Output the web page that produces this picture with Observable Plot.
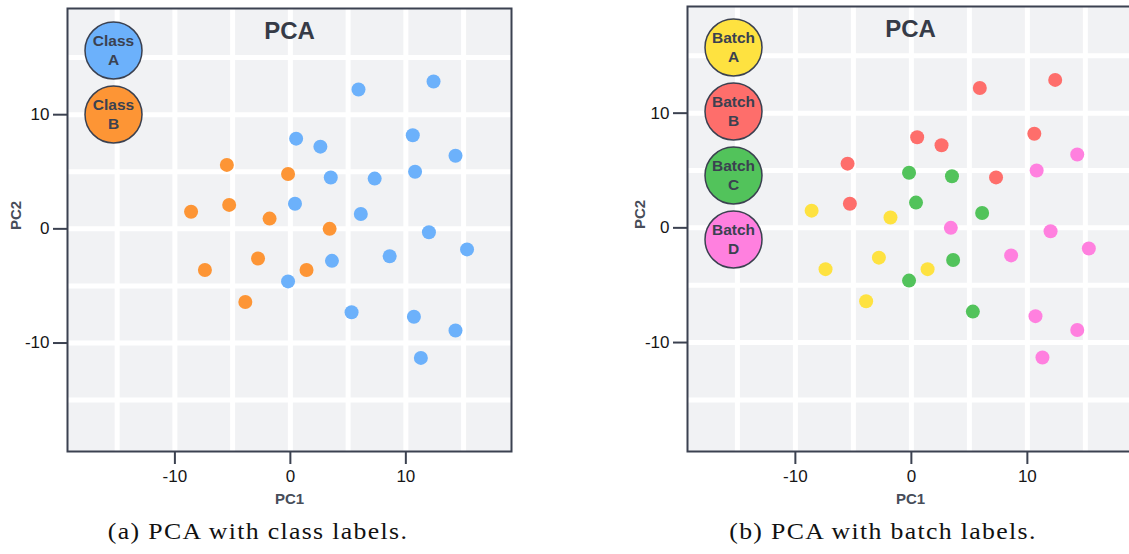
<!DOCTYPE html>
<html>
<head>
<meta charset="utf-8">
<script src="https://cdn.jsdelivr.net/npm/d3@7"></script>
<script src="https://cdn.jsdelivr.net/npm/@observablehq/plot@0.6"></script>
<style>
  html, body { margin: 0; padding: 0; background: #ffffff; }
  body { position: relative; width: 1129px; height: 554px; overflow: hidden; }
  .panel { position: absolute; top: 0; width: 600px; }
  .panel svg { max-width: none !important; }
  .caption {
    position: absolute; top: 520px; white-space: nowrap;
    font-family: "Liberation Serif", "Times New Roman", serif;
    font-size: 23px; line-height: 1; letter-spacing: 1.2px; color: #111;
    transform: translateX(-50%) scaleX(1.12); transform-origin: center;
  }
</style>
</head>
<body>
<div id="left" class="panel" style="left:0px"></div>
<div id="right" class="panel" style="left:570px"></div>
<div class="caption" id="capA" style="left:258px"></div>
<div class="caption" id="capB" style="left:883px"></div>
<script>
// ---- data ----
const pc1 = [5.9, 12.4, 0.5, 2.6, 10.6, 14.3, 3.5, 7.3, 10.8, 0.4,
             6.1, 12.0, 15.3, 8.6, 3.6, -0.2, 5.3, 10.7, 14.3, 11.3,
             -5.5, -0.2, -8.6, -5.3, -1.8, 3.4, -7.4, -2.8, 1.4, -3.9];
const pc2 = [12.2, 12.9, 7.9, 7.2, 8.2, 6.4, 4.5, 4.4, 5.0, 2.2,
             1.3, -0.3, -1.8, -2.4, -2.8, -4.6, -7.3, -7.7, -8.9, -11.3,
             5.6, 4.8, 1.5, 2.1, 0.9, 0.0, -3.6, -2.6, -3.6, -6.4];
const classLabels = ["A","A","A","A","A","A","A","A","A","A",
                     "A","A","A","A","A","A","A","A","A","A",
                     "B","B","B","B","B","B","B","B","B","B"];
const batchLabels = ["B","B","B","B","B","D","C","B","D","C",
                     "C","D","D","D","C","C","C","D","D","D",
                     "B","C","A","B","A","D","A","A","A","A"];
const classNames = ["A", "B"];
const classColors = ["#6cb1fb", "#fd9535"];
const batchNames = ["A", "B", "C", "D"];
const batchColors = ["#fee240", "#fe6e6b", "#52c35b", "#ff80df"];
const tickValues = [-10, 0, 10];
const tickLabels = ["-10", "0", "10"];
const gridValues = [-15, -10, -5, 0, 5, 10, 15];
const xDomain = [-19.3, 19.15];
const yDomain = [-19.5, 19.3];
const titleText = "PCA";
const xLabel = "PC1";
const yLabel = "PC2";
const captions = ["(a) PCA with class labels.", "(b) PCA with batch labels."];

const points = pc1.map((x, i) => ({pc1: x, pc2: pc2[i], cls: classLabels[i], batch: batchLabels[i]}));

const ink = "#3b4150";

function panel({key, names, colors, prefix, width, ml, mr, mt, legendTop, ylabDx}) {
  const legendMarks = [];
  names.forEach((n, i) => {
    legendMarks.push(Plot.dot([n], {
      frameAnchor: "top-left", dx: 46, dy: legendTop + i * 64, r: 28.5,
      fill: d => d, stroke: ink, strokeWidth: 1.5
    }));
    legendMarks.push(Plot.text([n], {
      frameAnchor: "top-left", dx: 46, dy: legendTop + i * 64 - 1,
      text: d => prefix + "\n" + d, lineHeight: 1.2, lineAnchor: "middle", textAnchor: "middle",
      fontSize: 15.5, fontWeight: "bold", fill: ink
    }));
  });
  return Plot.plot({
    width, height: 510,
    marginLeft: ml, marginRight: mr, marginTop: mt, marginBottom: 59,
    style: {fontFamily: "'Liberation Sans', Arial, sans-serif", background: "transparent", overflow: "visible"},
    x: {domain: xDomain},
    y: {domain: yDomain},
    color: {domain: names, range: colors},
    marks: [
      Plot.frame({fill: "#f1f2f4", stroke: null}),
      Plot.gridX({ticks: gridValues, stroke: "#ffffff", strokeOpacity: 1, strokeWidth: 5}),
      Plot.gridY({ticks: gridValues, stroke: "#ffffff", strokeOpacity: 1, strokeWidth: 5}),
      Plot.frame({stroke: ink, strokeWidth: 2}),
      Plot.axisX({ticks: tickValues, tickFormat: d => tickLabels[tickValues.indexOf(d)],
        tickSize: 13, tickPadding: 5, strokeWidth: 2, stroke: ink, fill: "#161616",
        fontSize: 17, label: null}),
      Plot.axisY({ticks: tickValues, tickFormat: d => tickLabels[tickValues.indexOf(d)],
        tickSize: 14, tickPadding: 4, strokeWidth: 2, stroke: ink, fill: "#161616",
        fontSize: 17, label: null}),
      Plot.dot(points, {x: "pc1", y: "pc2", r: 7, fill: key, stroke: null}),
      Plot.text([titleText], {frameAnchor: "top", dy: 23, lineAnchor: "middle",
        fontSize: 24, fontWeight: "bold", fill: "#363b47"}),
      ...legendMarks,
      Plot.text([xLabel], {frameAnchor: "bottom", dy: 48, lineAnchor: "middle",
        fontSize: 15, fontWeight: "bold", fill: "#474d59"}),
      Plot.text([yLabel], {frameAnchor: "left", dx: ylabDx, rotate: -90, lineAnchor: "middle",
        fontSize: 15, fontWeight: "bold", fill: "#474d59"})
    ]
  });
}

document.getElementById("left").append(panel({
  key: "cls", names: classNames, colors: classColors, prefix: "Class",
  width: 560, ml: 67, mr: 49, mt: 8, legendTop: 42, ylabDx: -51
}));
document.getElementById("right").append(panel({
  key: "batch", names: batchNames, colors: batchColors, prefix: "Batch",
  width: 570, ml: 117, mr: 7, mt: 6, legendTop: 41, ylabDx: -47
}));
document.getElementById("capA").textContent = captions[0];
document.getElementById("capB").textContent = captions[1];
</script>
</body>
</html>
